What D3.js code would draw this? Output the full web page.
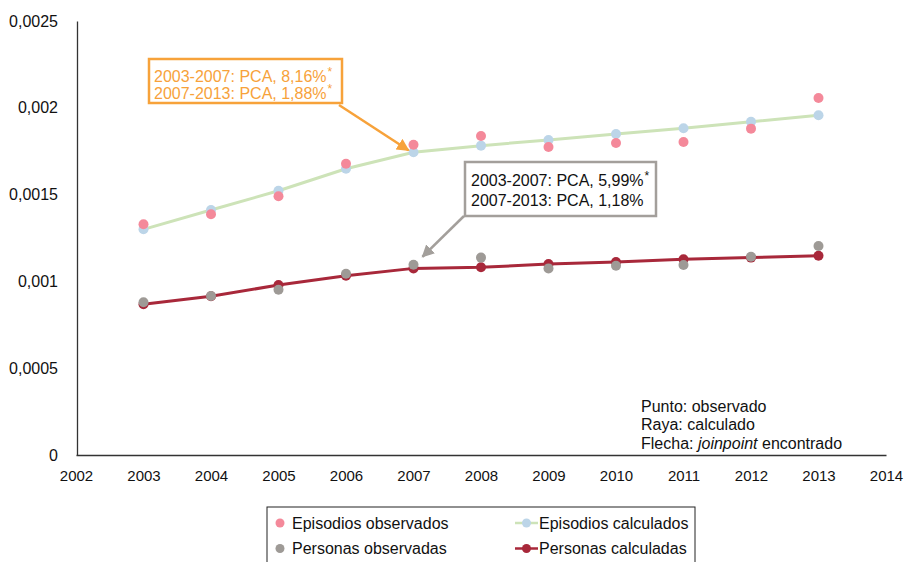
<!DOCTYPE html>
<html><head><meta charset="utf-8">
<script src="https://cdn.jsdelivr.net/npm/d3@7/dist/d3.min.js"></script>
<style>
html,body{margin:0;padding:0;background:#fff;}
svg text{font-family:"Liberation Sans",Arial,sans-serif;}
</style></head>
<body>
<svg id="chart" width="904" height="562"></svg>
<script>
const years = [2003,2004,2005,2006,2007,2008,2009,2010,2011,2012,2013];
const episodiosObservados = [0.001329,0.001387,0.001490,0.001678,0.001787,0.001838,0.001774,0.001797,0.001803,0.001880,0.002056];
const episodiosCalculados = [0.001300,0.001411,0.001522,0.001649,0.001744,0.001782,0.001815,0.001849,0.001882,0.001920,0.001957];
const personasObservadas = [0.000880,0.000916,0.000952,0.001044,0.001096,0.001137,0.001075,0.001090,0.001094,0.001142,0.001204];
const personasCalculadas = [0.000868,0.000914,0.000979,0.001033,0.001075,0.001081,0.001100,0.001112,0.001127,0.001137,0.001148];
const xTicks = [2002,2003,2004,2005,2006,2007,2008,2009,2010,2011,2012,2013,2014];
const yTicks = [0,0.0005,0.001,0.0015,0.002,0.0025];
const yTickLabels = ["0","0,0005","0,001","0,0015","0,002","0,0025"];
const legendLabels = ["Episodios observados","Episodios calculados","Personas observadas","Personas calculadas"];
const noteLines = ["Punto: observado","Raya: calculado","Flecha: "];
const annoEpisodios = ["2003-2007: PCA, 8,16%","2007-2013: PCA, 1,88%"];
const annoEpisodiosStar = [true,true];
const annoPersonas = ["2003-2007: PCA, 5,99%","2007-2013: PCA, 1,18%"];
const annoPersonasStar = [true,false];

const C = {pink:"#f4899a", blue:"#bcd5e8", green:"#cde3b8", gray:"#9e9a96", red:"#a8283a", orange:"#f7a23a", grayBox:"#a39f9b"};
const FS = 16;

const svg = d3.select("#chart");
const x = d3.scaleLinear().domain([2002,2014]).range([76,886]);
const y = d3.scaleLinear().domain([0,0.0025]).range([455,21]);

// axes
const xAxis = svg.append("g").attr("transform",`translate(0,${y(0)})`)
  .call(d3.axisBottom(x).tickValues(xTicks).tickFormat(d3.format("d")).tickSize(0).tickPadding(15));
xAxis.select(".domain").attr("stroke","#333").attr("stroke-width",1.3);
xAxis.selectAll("text").attr("font-size",15).attr("fill","#111").style("font-family","'Liberation Sans',Arial,sans-serif");

const yAxis = svg.append("g").attr("transform",`translate(${x(2002)+1},0)`)
  .call(d3.axisLeft(y).tickValues(yTicks).tickFormat((d,i)=>yTickLabels[i]).tickSize(0).tickPadding(19));
yAxis.select(".domain").attr("stroke","#333").attr("stroke-width",1.3);
yAxis.selectAll("text").attr("font-size",FS).attr("fill","#111").style("font-family","'Liberation Sans',Arial,sans-serif");

const line = d3.line().x((d,i)=>x(years[i])).y(d=>y(d));
const plot = svg.append("g");

// calculated series
plot.append("path").datum(episodiosCalculados).attr("d",line).attr("fill","none").attr("stroke",C.green).attr("stroke-width",3);
plot.selectAll(".ec").data(episodiosCalculados).enter().append("circle")
  .attr("cx",(d,i)=>x(years[i])).attr("cy",d=>y(d)).attr("r",5).attr("fill",C.blue);
plot.append("path").datum(personasCalculadas).attr("d",line).attr("fill","none").attr("stroke",C.red).attr("stroke-width",3);
plot.selectAll(".pc").data(personasCalculadas).enter().append("circle")
  .attr("cx",(d,i)=>x(years[i])).attr("cy",d=>y(d)).attr("r",5).attr("fill",C.red);
// observed series
plot.selectAll(".eo").data(episodiosObservados).enter().append("circle")
  .attr("cx",(d,i)=>x(years[i])).attr("cy",d=>y(d)).attr("r",5).attr("fill",C.pink);
plot.selectAll(".po").data(personasObservadas).enter().append("circle")
  .attr("cx",(d,i)=>x(years[i])).attr("cy",d=>y(d)).attr("r",5).attr("fill",C.gray);

// arrow markers
const defs = svg.append("defs");
function mk(id,color){
  defs.append("marker").attr("id",id).attr("viewBox","0 0 10 10").attr("refX",9).attr("refY",5)
    .attr("markerWidth",5).attr("markerHeight",5).attr("markerUnits","strokeWidth").attr("orient","auto")
    .append("path").attr("d","M0,0 L10,5 L0,10 z").attr("fill",color);
}
mk("arrO",C.orange); mk("arrG",C.grayBox);

const jx = x(2007);
// orange annotation
const bo = {x:149, y:59, w:193, h:44};
svg.append("rect").attr("x",bo.x).attr("y",bo.y).attr("width",bo.w).attr("height",bo.h)
  .attr("fill","#fff").attr("stroke",C.orange).attr("stroke-width",2.5);
annoEpisodios.forEach((t,i)=>{
  const tx = svg.append("text").attr("x",bo.x+5).attr("y",bo.y+22.5+i*17).attr("font-size",FS).attr("fill",C.orange).text(t);
  if(annoEpisodiosStar[i]) tx.append("tspan").attr("font-size",12).attr("dx",1).attr("dy",-6).text("*");
});
svg.append("line").attr("x1",bo.x+bo.w-3).attr("y1",bo.y+bo.h+2).attr("x2",jx-5).attr("y2",y(episodiosCalculados[4])-2)
  .attr("stroke",C.orange).attr("stroke-width",2.5).attr("marker-end","url(#arrO)");

// gray annotation
const bg = {x:465, y:162, w:191, h:54};
svg.append("rect").attr("x",bg.x).attr("y",bg.y).attr("width",bg.w).attr("height",bg.h)
  .attr("fill","#fff").attr("stroke",C.grayBox).attr("stroke-width",2.5);
annoPersonas.forEach((t,i)=>{
  const tx = svg.append("text").attr("x",bg.x+6).attr("y",bg.y+24+i*20).attr("font-size",FS).attr("fill","#111").text(t);
  if(annoPersonasStar[i]) tx.append("tspan").attr("font-size",12).attr("dx",1).attr("dy",-6).text("*");
});
svg.append("line").attr("x1",bg.x-1).attr("y1",bg.y+bg.h).attr("x2",jx+9).attr("y2",y(personasObservadas[4])-8)
  .attr("stroke",C.grayBox).attr("stroke-width",2.5).attr("marker-end","url(#arrG)");

// note
const note = svg.append("g");
noteLines.forEach((t,i)=>{
  const tx = note.append("text").attr("x",641).attr("y",411.5+i*18.5).attr("font-size",FS).attr("fill","#111").text(t);
  if(i===2){
    tx.append("tspan").attr("font-style","italic").text("joinpoint");
    tx.append("tspan").text(" encontrado");
  }
});

// legend
const lg = svg.append("g");
lg.append("rect").attr("x",267).attr("y",507).attr("width",428).attr("height",80)
  .attr("fill","#fff").attr("stroke","#222").attr("stroke-width",1);
const lgItems = [
  {label:legendLabels[0], c:C.pink, line:null, col:0, row:0},
  {label:legendLabels[1], c:C.blue, line:C.green, col:1, row:0},
  {label:legendLabels[2], c:C.gray, line:null, col:0, row:1},
  {label:legendLabels[3], c:C.red, line:C.red, col:1, row:1}
];
lgItems.forEach(it=>{
  const cy = 523 + it.row*25.5;
  if(it.col===0){
    lg.append("circle").attr("cx",280).attr("cy",cy).attr("r",4.5).attr("fill",it.c);
    lg.append("text").attr("x",292).attr("y",cy+5.5).attr("font-size",FS).attr("fill","#111").text(it.label);
  } else {
    lg.append("line").attr("x1",515).attr("x2",538).attr("y1",cy).attr("y2",cy).attr("stroke",it.line).attr("stroke-width",2.5);
    lg.append("circle").attr("cx",526.5).attr("cy",cy).attr("r",4.5).attr("fill",it.c);
    lg.append("text").attr("x",539).attr("y",cy+5.5).attr("font-size",FS).attr("fill","#111").text(it.label);
  }
});
</script>
</body></html>
